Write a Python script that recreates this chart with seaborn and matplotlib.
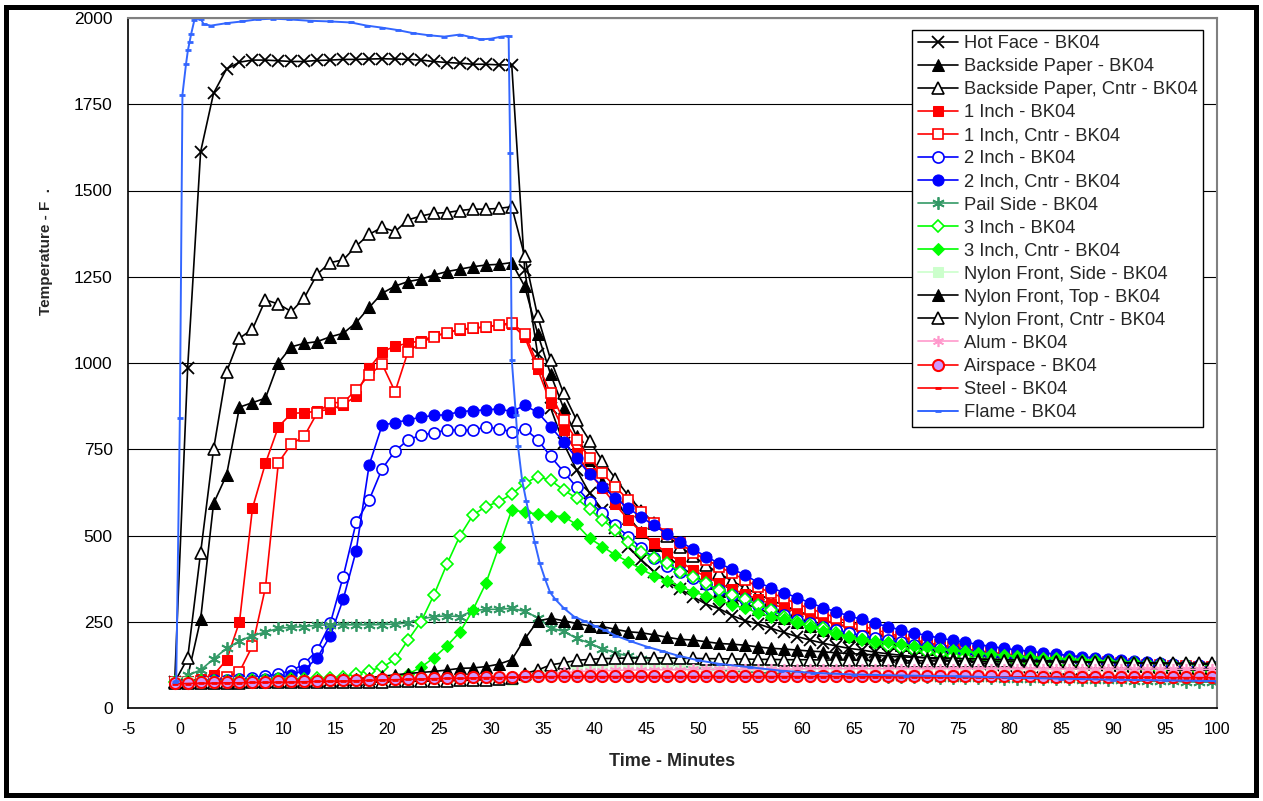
import numpy as np
import matplotlib
matplotlib.use("Agg")
import matplotlib.pyplot as plt
import seaborn as sns
from matplotlib.patches import Rectangle
from matplotlib.ticker import MultipleLocator

# tiempo de muestreo (cada 1.25 min)
minutes = np.arange(81) * 1.25 - 0.5

hot_face = [75, 985, 1612, 1782, 1852, 1872,
            1878, 1878, 1876, 1874, 1874, 1877, 1878, 1880, 1880, 1881,
            1882, 1881, 1880, 1878, 1874, 1871, 1869, 1866, 1866, 1864, 1864,
            1270, 1025, 870, 767, 690, 623, 574, 521, 467, 429,
            395, 366, 345, 322, 301, 288, 268, 253, 244, 231,
            219, 207, 197, 188, 180, 173,
            168, 162, 157, 153, 149, 145, 141, 137, 134, 131,
            128, 125, 122, 120, 118, 116, 114, 112, 110, 108,
            107, 105, 104, 103, 102, 101, 100, 99]

backside_paper = [75, 90, 257, 593, 675, 872, 885, 898, 1000, 1047,
                  1057, 1062, 1076, 1086, 1117, 1161, 1202, 1223, 1236, 1243,
                  1255, 1265, 1272, 1279, 1284, 1286, 1291,
                  1222, 1085, 967, 869, 787, 720, 655, 600, 552, 510,
                  472, 440, 410, 385, 362, 340, 320, 303, 288, 273,
                  260, 248, 237, 227, 218, 210, 202, 195, 188, 182,
                  176, 171, 166, 161, 157, 153, 149, 146, 143, 140,
                  138, 136, 134, 132, 130, 128, 126, 125, 124, 123,
                  122, 121, 120, 119]

backside_cntr = [75, 144, 450, 750, 974, 1072, 1098, 1183, 1171, 1149,
                 1189, 1258, 1291, 1299, 1339, 1373, 1393, 1381, 1415, 1426,
                 1434, 1436, 1442, 1446, 1446, 1448, 1453,
                 1309, 1135, 1010, 912, 835, 775, 716, 665, 615, 572,
                 535, 500, 468, 440, 414, 390, 368, 348, 330, 313,
                 297, 282, 268, 256, 244, 233, 223, 213, 205, 197,
                 189, 182, 176, 170, 165, 160, 155, 151, 147, 143,
                 140, 137, 134, 131, 129, 127, 125, 123, 121, 119,
                 118, 117, 116, 115]

one_inch = [75, 78, 85, 96, 139, 250, 579, 709, 815, 854,
            856, 860, 866, 878, 905, 985, 1032, 1049, 1057, 1065,
            1078, 1088, 1096, 1100, 1105, 1110, 1112,
            1075, 982, 883, 806, 738, 680, 637, 590, 545, 510,
            477, 448, 424, 400, 380, 362, 345, 330, 315, 302,
            290, 278, 266, 255, 245, 235, 226, 218, 210, 202,
            195, 188, 182, 176, 170, 165, 160, 156, 152, 148,
            144, 141, 138, 135, 132, 130, 127, 125, 123, 121,
            119, 117, 116, 114]

one_inch_cntr = [75, 76, 78, 82, 90, 105, 180, 349, 711, 765,
                 788, 856, 885, 885, 922, 965, 997, 917, 1033, 1059,
                 1076, 1088, 1098, 1101, 1105, 1110, 1117,
                 1085, 996, 912, 835, 777, 724, 680, 640, 603, 568,
                 536, 505, 477, 450, 430, 410, 390, 372, 350, 334,
                 318, 302, 288, 275, 262, 250, 238, 227, 217, 207,
                 198, 190, 183, 177, 171, 166, 161, 157, 153, 149,
                 146, 143, 140, 137, 134, 132, 130, 128, 126, 124,
                 122, 121, 120, 118]

two_inch = [75, 76, 78, 80, 82, 84, 87, 93, 99, 108,
            128, 168, 245, 381, 538, 603, 693, 745, 777, 791,
            798, 806, 805, 805, 815, 809, 801,
            809, 778, 729, 685, 640, 598, 564, 529, 497, 463,
            434, 412, 395, 376, 359, 342, 328, 315, 299, 284,
            270, 256, 245, 235, 226, 218, 210, 203, 196, 190,
            184, 178, 173, 168, 163, 159, 155, 151, 148, 145,
            142, 139, 136, 134, 132, 130, 128, 126, 124, 122,
            120, 118, 116, 115]

two_inch_cntr = [75, 76, 77, 78, 79, 80, 82, 84, 87, 95,
                 110, 146, 209, 315, 456, 704, 820, 827, 835, 843,
                 848, 850, 859, 862, 864, 867, 859,
                 877, 857, 815, 772, 724, 678, 642, 608, 579, 553,
                 529, 504, 482, 460, 439, 419, 402, 386, 363, 349,
                 334, 320, 305, 291, 279, 267, 257, 245, 236, 226,
                 218, 210, 203, 196, 190, 184, 178, 173, 168, 164,
                 160, 156, 152, 148, 145, 142, 139, 136, 133, 131,
                 128, 126, 124, 122]

pail_side = [75, 95, 110, 142, 173, 194, 210, 220, 231, 234,
             236, 240, 241, 241, 241, 241, 242, 243, 247, 258,
             265, 267, 265, 282, 286, 286, 289,
             280, 262, 232, 222, 202, 188, 172, 160, 150, 143,
             135, 128, 122, 117, 113, 110, 107, 105, 103, 101,
             99, 98, 97, 96, 95, 94, 93, 92, 91, 90,
             89, 89, 88, 87, 87, 86, 86, 85, 85, 84,
             84, 83, 83, 82, 82, 81, 80, 79, 78, 77,
             77, 76, 75, 75]

three_inch = [75, 76, 77, 78, 79, 80, 81, 82, 83, 84,
              85, 86, 87, 90, 100, 108, 118, 141, 197, 250,
              328, 417, 499, 559, 584, 598, 620,
              651, 671, 660, 632, 608, 576, 545, 516, 482, 453,
              434, 419, 395, 381, 361, 342, 328, 315, 299, 284,
              265, 250, 241, 231, 218, 207, 197, 187, 180, 173,
              167, 161, 156, 151, 147, 143, 139, 136, 133, 130,
              127, 125, 123, 121, 119, 117, 115, 114, 112, 111,
              110, 109, 108, 107]

three_inch_cntr = [75, 76, 77, 77, 78, 78, 79, 79, 80, 80,
                   81, 81, 82, 83, 84, 85, 87, 90, 98, 118,
                   146, 180, 220, 284, 361, 466, 574,
                   568, 562, 557, 555, 532, 492, 468, 443, 424, 402,
                   383, 369, 352, 337, 325, 313, 299, 289, 276, 265,
                   257, 245, 236, 224, 214, 205, 199, 193, 190, 185,
                   180, 176, 172, 168, 164, 160, 156, 153, 150, 148,
                   146, 144, 142, 140, 138, 136, 134, 132, 130, 129,
                   128, 127, 126, 125]

nylon_side = [74, 74, 74, 74, 74, 74, 75, 75, 75, 75,
              75, 75, 76, 76, 76, 76, 77, 77, 77, 78,
              78, 78, 79, 79, 80, 80, 82,
              90, 98, 108, 115, 120, 123, 125, 126, 127, 127,
              127, 127, 127, 126, 126, 126, 125, 125, 125, 124,
              124, 124, 123, 123, 123, 122, 122, 122, 121, 121,
              121, 120, 120, 120, 119, 119, 119, 118, 118, 118,
              117, 117, 117, 116, 116, 116, 115, 115, 115, 114,
              114, 114, 113, 113]

nylon_top = [75, 75, 76, 76, 77, 77, 78, 78, 79, 80,
             80, 81, 82, 83, 85, 88, 92, 96, 100, 103,
             106, 110, 115, 116, 120, 127, 140,
             200, 252, 260, 253, 245, 238, 236, 228, 221, 218,
             212, 205, 199, 197, 192, 187, 185, 182, 177, 173,
             171, 168, 165, 163, 160, 158, 156, 154, 150, 148,
             147, 146, 145, 144, 143, 142, 141, 140, 139, 138,
             137, 136, 135, 134, 133, 132, 131, 130, 129, 129,
             128, 128, 127, 127]

nylon_cntr = [72, 73, 73, 73, 73, 73, 74, 74, 74, 74,
              75, 75, 75, 75, 76, 76, 76, 77, 77, 78,
              78, 79, 80, 81, 82, 84, 88,
              100, 110, 125, 131, 138, 141, 143, 144, 145, 145,
              145, 145, 144, 144, 143, 143, 142, 142, 141, 141,
              140, 140, 140, 139, 139, 139, 138, 138, 138, 137,
              137, 137, 136, 136, 136, 135, 135, 135, 134, 134,
              134, 133, 133, 133, 132, 132, 132, 131, 131, 131,
              130, 130, 130, 129]

alum = [75, 75, 76, 76, 77, 77, 78, 78, 79, 79,
        80, 80, 81, 81, 82, 82, 83, 84, 84, 85,
        86, 86, 87, 88, 88, 89, 90,
        93, 97, 100, 103, 105, 107, 108, 109, 110, 110,
        111, 111, 111, 112, 112, 112, 112, 113, 113, 113,
        113, 113, 114, 114, 114, 114, 114, 114, 114, 114,
        114, 114, 114, 114, 114, 114, 114, 114, 114, 114,
        114, 113, 113, 113, 113, 113, 113, 113, 113, 113,
        112, 112, 112, 112]

airspace = [72, 73, 74, 74, 75, 75, 76, 76, 77, 77,
            78, 79, 80, 80, 81, 82, 83, 84, 85, 86,
            87, 88, 88, 89, 90, 90, 91,
            92, 92, 93, 93, 93, 93, 93, 93, 93, 93,
            93, 93, 93, 93, 93, 93, 93, 93, 93, 93,
            93, 93, 93, 93, 93, 93, 93, 93, 93, 93,
            92, 92, 92, 92, 92, 92, 92, 92, 92, 92,
            91, 91, 91, 91, 91, 91, 91, 91, 91, 91,
            90, 90, 90, 90]

steel = [70, 71, 72, 72, 73, 73, 74, 74, 75, 75,
         76, 77, 78, 78, 79, 80, 81, 82, 83, 84,
         85, 86, 86, 87, 88, 88, 89,
         90, 90, 91, 91, 91, 91, 91, 91, 91, 91,
         91, 91, 91, 91, 91, 91, 91, 91, 91, 91,
         91, 91, 91, 91, 91, 91, 91, 91, 91, 91,
         90, 90, 90, 90, 90, 90, 90, 90, 90, 90,
         89, 89, 89, 89, 89, 89, 89, 89, 89, 89,
         88, 88, 88, 88]

# la llama tiene su propio muestreo
flame_minutes = [-0.5, -0.35, 0.0, 0.25, 0.6, 0.78, 0.94, 1.1, 1.4, 1.6,
                 2.0, 2.3, 3.0, 4.5, 6.0, 7.5, 9.0, 10.5, 12.5, 14.5,
                 16.5, 18.0, 19.5, 21.0, 22.5, 24.0, 25.5, 27.0, 28.0, 29.0,
                 30.0, 31.0, 31.7, 31.85, 32.0, 32.4, 32.6, 33.0, 33.4, 33.8,
                 34.2, 34.7, 35.2, 35.7, 36.2, 37.0, 38.0, 39.0, 40.0, 41.0,
                 42.0, 43.5, 45.0, 46.5, 48.0, 50.0, 52.0, 55.0, 58.0, 61.0,
                 65.0, 70.0, 75.0, 80.0, 85.0, 90.0, 95.0, 100.0]
flame_temp = [75, 78, 842, 1778, 1868, 1907, 1931, 1955, 1994, 2000,
              1998, 1982, 1978, 1985, 1990, 1996, 1998, 1996, 1992, 1990,
              1987, 1978, 1972, 1965, 1956, 1950, 1946, 1952, 1945, 1938,
              1940, 1946, 1948, 1610, 1010, 850, 760, 660, 600, 540,
              482, 420, 375, 335, 315, 290, 265, 252, 238, 225,
              210, 193, 178, 165, 152, 138, 128, 118, 108, 102,
              97, 94, 92, 88, 85, 82, 80, 78]

sns.set_style("white")
plt.rcParams['font.family'] = ['Liberation Sans', 'DejaVu Sans']
plt.rcParams['axes.unicode_minus'] = False

fig = plt.figure(figsize=(12.63, 8.01), dpi=100)
ax = fig.add_axes([128 / 1263, 1 - 708 / 801, 1089 / 1263, 690 / 801])

BLACK, RED, BLUE, LIME = 'black', '#ff0000', '#0000ff', '#00ff00'
asterisco = (6, 2, 0)

series = [
    ("Hot Face - BK04", hot_face, dict(color=BLACK, marker='x', markersize=8, markeredgecolor=BLACK, markeredgewidth=1.3)),
    ("Backside Paper - BK04", backside_paper, dict(color=BLACK, marker='^', markersize=8, markerfacecolor=BLACK, markeredgecolor=BLACK)),
    ("Backside Paper, Cntr - BK04", backside_cntr, dict(color=BLACK, marker='^', markersize=8, markerfacecolor='white', markeredgecolor=BLACK, markeredgewidth=1.2)),
    ("1 Inch - BK04", one_inch, dict(color=RED, marker='s', markersize=7, markerfacecolor=RED, markeredgecolor=RED)),
    ("1 Inch, Cntr - BK04", one_inch_cntr, dict(color=RED, marker='s', markersize=7, markerfacecolor='white', markeredgecolor=RED, markeredgewidth=1.2)),
    ("2 Inch - BK04", two_inch, dict(color=BLUE, marker='o', markersize=8, markerfacecolor='white', markeredgecolor=BLUE, markeredgewidth=1.2)),
    ("2 Inch, Cntr - BK04", two_inch_cntr, dict(color=BLUE, marker='o', markersize=8, markerfacecolor=BLUE, markeredgecolor=BLUE)),
    ("Pail Side - BK04", pail_side, dict(color='#339966', marker=asterisco, markersize=9, markeredgecolor='#339966', markeredgewidth=1.3)),
    ("3 Inch - BK04", three_inch, dict(color=LIME, marker='D', markersize=6, markerfacecolor='white', markeredgecolor=LIME, markeredgewidth=1.2)),
    ("3 Inch, Cntr - BK04", three_inch_cntr, dict(color=LIME, marker='D', markersize=6, markerfacecolor=LIME, markeredgecolor=LIME)),
    ("Nylon Front, Side - BK04", nylon_side, dict(color='#ccffcc', marker='s', markersize=7, markerfacecolor='#ccffcc', markeredgecolor='#ccffcc')),
    ("Nylon Front, Top - BK04", nylon_top, dict(color=BLACK, marker='^', markersize=8, markerfacecolor=BLACK, markeredgecolor=BLACK)),
    ("Nylon Front, Cntr - BK04", nylon_cntr, dict(color=BLACK, marker='^', markersize=8, markerfacecolor='white', markeredgecolor=BLACK, markeredgewidth=1.2)),
    ("Alum - BK04", alum, dict(color='#ff99cc', marker=asterisco, markersize=8, markeredgecolor='#ff99cc', markeredgewidth=1.2)),
    ("Airspace - BK04", airspace, dict(color=RED, marker='o', markersize=8, markerfacecolor='#cc99ff', markeredgecolor=RED, markeredgewidth=1.5)),
    ("Steel - BK04", steel, dict(color=RED, marker='_', markersize=5, markeredgecolor=RED, markeredgewidth=2)),
]

for nombre, valores, estilo in series:
    sns.lineplot(x=minutes, y=valores, ax=ax, label=nombre, errorbar=None,
                 linewidth=1.2, **estilo)

sns.lineplot(x=flame_minutes, y=flame_temp, ax=ax, label="Flame - BK04", errorbar=None,
             color='#3366ff', linewidth=1.4, marker='_', markersize=5,
             markeredgecolor='#3366ff', markeredgewidth=2)

ax.set_xlim(-5, 100)
ax.set_ylim(0, 2000)
ax.xaxis.set_major_locator(MultipleLocator(5))
ax.xaxis.set_minor_locator(MultipleLocator(1))
ax.yaxis.set_major_locator(MultipleLocator(250))
ax.yaxis.set_minor_locator(MultipleLocator(50))
ax.tick_params(axis='both', which='major', direction='out', length=6, width=1,
               color='black', labelcolor='black')
ax.tick_params(axis='x', which='major', pad=4, labelsize=11.5)
ax.tick_params(axis='y', which='major', pad=5, labelsize=12.5)
ax.tick_params(axis='both', which='minor', direction='in', length=4, width=0.8, color='black')

ax.set_axisbelow(True)
ax.yaxis.grid(True, which='major', color='black', linewidth=0.8)
ax.xaxis.grid(False)
for lado in ['left', 'bottom']:
    ax.spines[lado].set_color('black')
    ax.spines[lado].set_linewidth(1.2)
for lado in ['top', 'right']:
    ax.spines[lado].set_color('#808080')
    ax.spines[lado].set_linewidth(1.5)

ax.set_xlabel("Time - Minutes", fontsize=13, fontweight='bold')
ax.set_ylabel("Temperature - F  .", fontsize=11, fontweight='bold')
ax.xaxis.set_label_coords(0.5, -0.065)
ax.xaxis.label.set_va('top')
ax.yaxis.set_label_coords(-0.069, 0.662)

leyenda = ax.legend(loc='upper right', bbox_to_anchor=(0.987, 0.983), frameon=True,
                    fancybox=False, edgecolor='black', framealpha=1, fontsize=13.2,
                    handlelength=2.2, labelspacing=0.33, borderpad=0.3,
                    handletextpad=0.3, borderaxespad=0)
leyenda.get_frame().set_linewidth(1)

fig.patches.append(Rectangle((0.0048, 0.0075), 0.9897, 0.9838, transform=fig.transFigure,
                             fill=False, edgecolor='black', linewidth=3.6))

fig.savefig("out.png", dpi=100)
